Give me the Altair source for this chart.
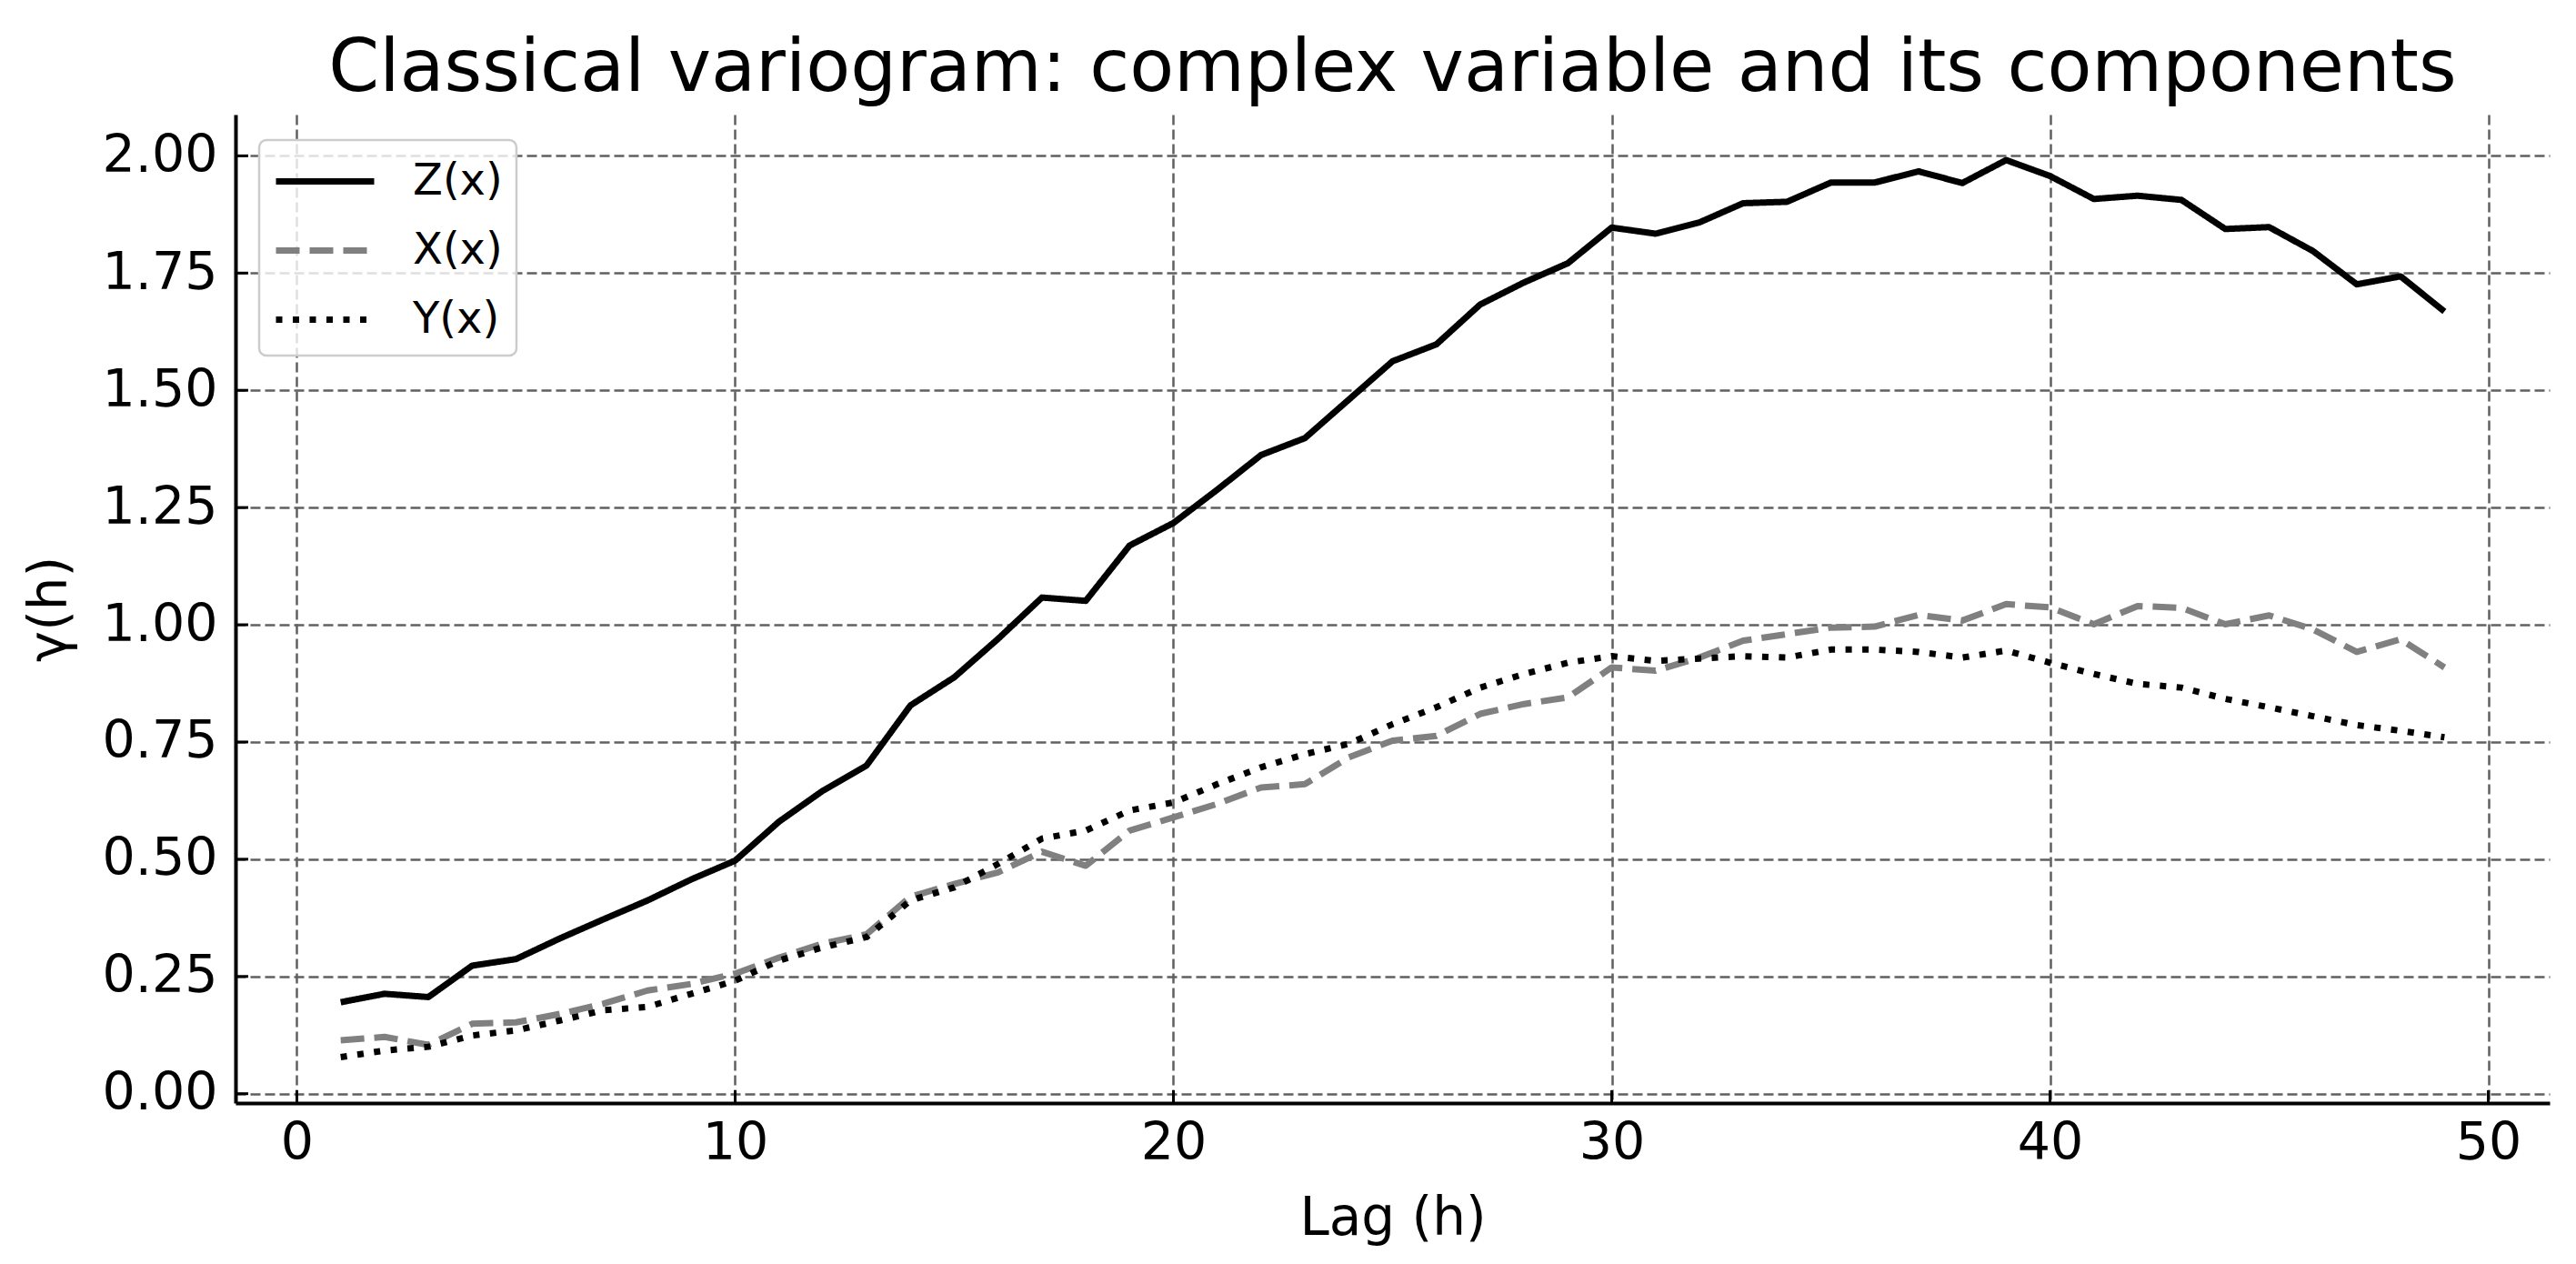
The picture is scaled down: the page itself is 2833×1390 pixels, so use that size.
import altair as alt
import pandas as pd

# ---- data ----
lags = [1, 2, 3, 4, 5, 6, 7, 8, 9, 10, 11, 12, 13, 14, 15, 16, 17, 18, 19, 20,
        21, 22, 23, 24, 25, 26, 27, 28, 29, 30, 31, 32, 33, 34, 35, 36, 37, 38, 39, 40,
        41, 42, 43, 44, 45, 46, 47, 48, 49]

z_vals = [0.195, 0.213, 0.206, 0.273, 0.287, 0.331, 0.372, 0.412, 0.457, 0.497,
          0.580, 0.646, 0.700, 0.828, 0.888, 0.970, 1.058, 1.051, 1.169, 1.217,
          1.288, 1.362, 1.398, 1.480, 1.562, 1.598, 1.683, 1.730, 1.771, 1.847,
          1.834, 1.858, 1.899, 1.902, 1.943, 1.943, 1.967, 1.942, 1.991, 1.957,
          1.908, 1.915, 1.906, 1.844, 1.848, 1.797, 1.726, 1.743, 1.668]

x_vals = [0.114, 0.121, 0.104, 0.149, 0.152, 0.170, 0.192, 0.220, 0.234, 0.256,
          0.290, 0.320, 0.340, 0.420, 0.447, 0.472, 0.516, 0.486, 0.561, 0.589,
          0.618, 0.653, 0.660, 0.717, 0.753, 0.763, 0.810, 0.831, 0.845, 0.909,
          0.902, 0.930, 0.966, 0.980, 0.994, 0.996, 1.021, 1.009, 1.044, 1.037,
          1.001, 1.040, 1.036, 1.001, 1.020, 0.990, 0.942, 0.969, 0.909]

y_vals = [0.078, 0.092, 0.100, 0.124, 0.135, 0.156, 0.178, 0.185, 0.213, 0.241,
          0.284, 0.312, 0.334, 0.412, 0.440, 0.490, 0.544, 0.561, 0.604, 0.621,
          0.660, 0.696, 0.724, 0.746, 0.788, 0.824, 0.866, 0.895, 0.919, 0.933,
          0.923, 0.928, 0.933, 0.930, 0.947, 0.947, 0.942, 0.930, 0.945, 0.919,
          0.895, 0.874, 0.866, 0.842, 0.824, 0.805, 0.786, 0.774, 0.760]

series_names = ["Z(x)", "X(x)", "Y(x)"]
series_colors = ["#000000", "#808080", "#000000"]
series_dashes = [[1, 0], [26, 11], [7, 11.5]]

x_ticks = [0, 10, 20, 30, 40, 50]
y_ticks = [0.0, 0.25, 0.5, 0.75, 1.0, 1.25, 1.5, 1.75, 2.0]

rows = []
for name, vals in zip(series_names, [z_vals, x_vals, y_vals]):
    for h, v in zip(lags, vals):
        rows.append({"lag": h, "gamma": v, "series": name})
df = pd.DataFrame(rows)

W, H = 2545, 1087
FONT = "DejaVu Sans"

xscale = alt.Scale(domain=[-1.4, 51.4], nice=False, zero=False)
yscale = alt.Scale(domain=[-0.02, 2.088], nice=False, zero=False)

x_axis = alt.Axis(values=x_ticks, format="d", title="Lag (h)",
                  labelPadding=16, labelFlush=False,
                  titleX=W / 2, titleY=144, titleBaseline="alphabetic",
                  titleAlign="center")
y_axis = alt.Axis(values=y_ticks, format=".2f", title="γ(h)",
                  labelPadding=20,
                  titleX=-187, titleY=H / 2, titleAngle=270,
                  titleBaseline="alphabetic", titleAlign="center")

leg = alt.Legend(
    title=None, orient="none", legendX=26, legendY=28,
    symbolType="M-1,0H3", symbolSize=2916, symbolStrokeWidth=7,
    labelFont=FONT, labelFontSize=48, labelColor="black", labelOffset=93,
    padding=15, rowPadding=21, strokeColor="#cccccc",
    fillColor="rgba(255,255,255,0.8)", cornerRadius=8,
)

lines = alt.Chart(df).mark_line(strokeWidth=7, strokeCap="butt", strokeJoin="round").encode(
    x=alt.X("lag:Q", scale=xscale, axis=x_axis),
    y=alt.Y("gamma:Q", scale=yscale, axis=y_axis),
    color=alt.Color("series:N", scale=alt.Scale(domain=series_names, range=series_colors),
                    legend=leg),
    strokeDash=alt.StrokeDash("series:N", scale=alt.Scale(domain=series_names, range=series_dashes),
                              legend=leg),
)

xt_df = pd.DataFrame({"lag": x_ticks})
xtick = alt.Chart(xt_df).mark_rule(color="black", strokeWidth=3).encode(
    x=alt.X("lag:Q", scale=xscale, axis=x_axis),
    y=alt.value(H), y2=alt.value(H - 14),
)
yt_df = pd.DataFrame({"gamma": y_ticks})
ytick = alt.Chart(yt_df).mark_rule(color="black", strokeWidth=3).encode(
    y=alt.Y("gamma:Q", scale=yscale, axis=y_axis),
    x=alt.value(0), x2=alt.value(14),
)

chart = alt.layer(lines, xtick, ytick).properties(
    width=W, height=H,
    title=alt.TitleParams(text="Classical variogram: complex variable and its components",
                          font=FONT, fontSize=80, fontWeight="normal", anchor="middle",
                          baseline="alphabetic", offset=28, dy=82, color="black"),
    autosize=alt.AutoSizeParams(type="none"),
    padding={"left": 251, "top": 118, "right": 10, "bottom": 172},
).configure_axis(
    labelFont=FONT, labelFontSize=57, labelColor="black",
    titleFont=FONT, titleFontSize=58, titleFontWeight="normal", titleColor="black",
    domainColor="black", domainWidth=4, ticks=False,
    grid=True, gridColor="#606060", gridDash=[11, 5], gridWidth=2.5, gridOpacity=1,
).configure_legend(
    strokeWidth=2.5,
).configure_view(
    strokeWidth=0,
)

chart.save("out.html", embed_options={"renderer": "svg", "actions": False})
